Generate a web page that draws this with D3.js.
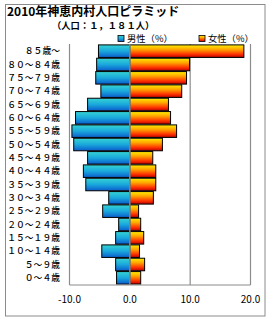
<!DOCTYPE html>
<html>
<head>
<meta charset="utf-8">
<script src="https://cdn.jsdelivr.net/npm/d3@7"></script>
<style>
  body { margin: 0; background: #fff; }
  text { font-family: "Noto Sans CJK JP", sans-serif; }
</style>
</head>
<body>
<div id="chart"></div>
<script>
// Chart data
const ages = ["８５歳～", "８０～８４歳", "７５～７９歳", "７０～７４歳", "６５～６９歳", "６０～６４歳",
              "５５～５９歳", "５０～５４歳", "４５～４９歳", "４０～４４歳", "３５～３９歳", "３０～３４歳",
              "２５～２９歳", "２０～２４歳", "１５～１９歳", "１０～１４歳", "５～９歳", "０～４歳"];
const male = [5.2, 5.5, 5.65, 4.8, 7.0, 9.0, 9.6, 9.3, 7.0, 7.7, 7.3, 3.5, 4.5, 1.85, 2.35, 4.65, 2.35, 2.2];
const female = [18.9, 9.9, 9.4, 8.6, 6.4, 6.75, 7.75, 5.4, 3.8, 4.3, 4.3, 3.9, 1.45, 1.8, 2.3, 1.6, 2.45, 1.8];
const ticks = [-10, 0, 10, 20];

const width = 270;
const height = 320;

const svg = d3.select("#chart")
    .append("svg")
    .attr("width", width)
    .attr("height", height);

// Gradients for bars
const defs = svg.append("defs");
const maleGrad = defs.append("linearGradient")
    .attr("id", "maleGrad").attr("x1", 0).attr("y1", 0).attr("x2", 0).attr("y2", 1);
maleGrad.append("stop").attr("offset", "0%").attr("stop-color", "#36d4d4");
maleGrad.append("stop").attr("offset", "50%").attr("stop-color", "#1aa8dc");
maleGrad.append("stop").attr("offset", "100%").attr("stop-color", "#0a5ccc");
const femaleGrad = defs.append("linearGradient")
    .attr("id", "femaleGrad").attr("x1", 0).attr("y1", 0).attr("x2", 0).attr("y2", 1);
femaleGrad.append("stop").attr("offset", "0%").attr("stop-color", "#ffee00");
femaleGrad.append("stop").attr("offset", "35%").attr("stop-color", "#ffa800");
femaleGrad.append("stop").attr("offset", "75%").attr("stop-color", "#ff3000");
femaleGrad.append("stop").attr("offset", "100%").attr("stop-color", "#b80000");

// Outer frame
svg.append("rect")
    .attr("x", 5.5).attr("y", 4.5)
    .attr("width", 259.5).attr("height", 311.5)
    .attr("fill", "none")
    .attr("stroke", "#8c8c8c")
    .attr("stroke-width", 1);

// Titles
svg.append("text")
    .attr("x", 7).attr("y", 16)
    .attr("font-size", 12).attr("font-weight", "bold")
    .text("2010年神恵内村人口ピラミッド");
svg.append("text")
    .attr("x", 52).attr("y", 29)
    .attr("font-size", 9.3).attr("font-weight", "bold")
    .text("（人口：１，１８１人）");

// Scales
const x = d3.scaleLinear().domain([-10, 20]).range([69.5, 250.5]);
const y = d3.scaleBand().domain(ages).range([44.5, 284.5]).paddingInner(0.06).paddingOuter(0.03);

// Gridlines
svg.append("g")
    .selectAll("line")
    .data(ticks.filter(t => t > 0))
    .enter().append("line")
    .attr("x1", d => x(d)).attr("x2", d => x(d))
    .attr("y1", 44).attr("y2", 285)
    .attr("stroke", "#8c8c8c").attr("stroke-width", 1.2);

// Bars
svg.append("g")
    .selectAll("rect")
    .data(ages.map((a, i) => ({ age: a, v: male[i] })))
    .enter().append("rect")
    .attr("x", d => x(-d.v))
    .attr("y", d => y(d.age))
    .attr("width", d => x(0) - x(-d.v))
    .attr("height", y.bandwidth())
    .attr("fill", "url(#maleGrad)")
    .attr("stroke", "#000").attr("stroke-width", 1);

svg.append("g")
    .selectAll("rect")
    .data(ages.map((a, i) => ({ age: a, v: female[i] })))
    .enter().append("rect")
    .attr("x", x(0))
    .attr("y", d => y(d.age))
    .attr("width", d => x(d.v) - x(0))
    .attr("height", y.bandwidth())
    .attr("fill", "url(#femaleGrad)")
    .attr("stroke", "#000").attr("stroke-width", 1);

// Zero line and axes
svg.append("line")
    .attr("x1", x(0)).attr("x2", x(0)).attr("y1", 44).attr("y2", 285)
    .attr("stroke", "#8c8c8c").attr("stroke-width", 1.5);
svg.append("line")
    .attr("x1", x(-10)).attr("x2", x(-10)).attr("y1", 44).attr("y2", 285)
    .attr("stroke", "#8c8c8c").attr("stroke-width", 1.2);
svg.append("line")
    .attr("x1", x(-10)).attr("x2", x(20)).attr("y1", 285).attr("y2", 285)
    .attr("stroke", "#8c8c8c").attr("stroke-width", 1.2);

// Age labels
svg.append("g")
    .selectAll("text")
    .data(ages)
    .enter().append("text")
    .attr("x", 60)
    .attr("y", d => y(d) + y.bandwidth() / 2)
    .attr("dy", "0.35em")
    .attr("text-anchor", "end")
    .attr("font-size", 8.8)
    .attr("font-weight", 500)
    .attr("fill", "#000")
    .text(d => d);

// X tick labels
svg.append("g")
    .selectAll("text")
    .data(ticks)
    .enter().append("text")
    .attr("x", d => x(d))
    .attr("y", 303)
    .attr("text-anchor", "middle")
    .attr("font-size", 10)
    .attr("font-family", "'Liberation Sans', sans-serif")
    .text(d => d3.format(".1f")(d).replace("−", "-"));

// Legend
const legend = [
    { label: "男性（%）", fill: "url(#maleGrad)", x: 118 },
    { label: "女性（%）", fill: "url(#femaleGrad)", x: 199 }
];
const lg = svg.append("g")
    .selectAll("g")
    .data(legend)
    .enter().append("g");
lg.append("rect")
    .attr("x", d => d.x).attr("y", 35.5)
    .attr("width", 6).attr("height", 6)
    .attr("fill", d => d.fill)
    .attr("stroke", "#000").attr("stroke-width", 0.8);
lg.append("text")
    .attr("x", d => d.x + 9).attr("y", 42)
    .attr("font-size", 9.3)
    .text(d => d.label);
</script>
</body>
</html>
